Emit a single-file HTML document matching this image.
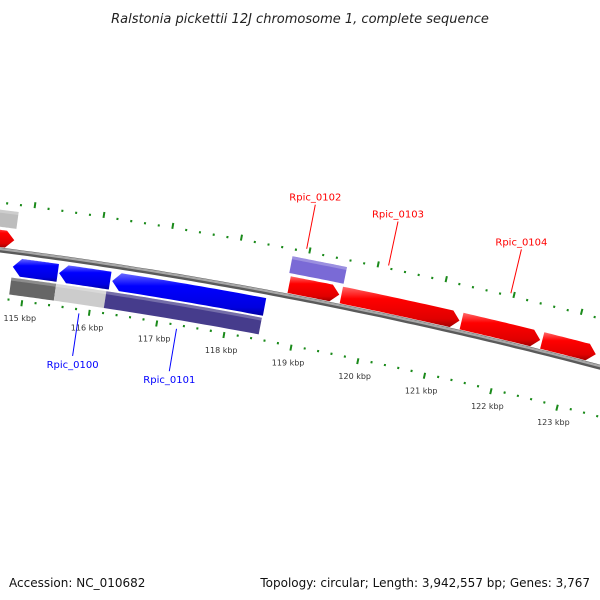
<!DOCTYPE html>
<html><head><meta charset="utf-8">
<style>
html,body{margin:0;padding:0;background:#fff;}
svg{display:block;font-family:"DejaVu Sans","Liberation Sans",sans-serif;}
</style></head>
<body>
<svg id="map" width="600" height="600" viewBox="0 0 600 600" xmlns="http://www.w3.org/2000/svg">
<defs>
<linearGradient id="gRed" x1="0" y1="0" x2="0" y2="1"><stop offset="0" stop-color="#ff6a6a"/><stop offset="0.3" stop-color="#ff0000"/><stop offset="0.8" stop-color="#e00000"/><stop offset="1" stop-color="#a00000"/></linearGradient>
<linearGradient id="gBlue" x1="0" y1="0" x2="0" y2="1"><stop offset="0" stop-color="#6a6aff"/><stop offset="0.3" stop-color="#0000ff"/><stop offset="0.8" stop-color="#0000e0"/><stop offset="1" stop-color="#0000a0"/></linearGradient>
<linearGradient id="gBack" x1="0" y1="0" x2="0" y2="1"><stop offset="0" stop-color="#bbbbbb"/><stop offset="0.5" stop-color="#888888"/><stop offset="1" stop-color="#555555"/></linearGradient>
</defs>
<text x="300" y="23" text-anchor="middle" font-size="13" font-style="italic" fill="#222">Ralstonia pickettii 12J chromosome 1, complete sequence</text>
<g id="ticks"></g>
<g id="feats"></g>
<g id="labels"></g>
<text x="9" y="587" font-size="12" fill="#111">Accession: NC_010682</text>
<text x="590" y="587" font-size="12" text-anchor="end" fill="#111">Topology: circular; Length: 3,942,557 bp; Genes: 3,767</text>
</svg>
<script>
// data
const featStart = [114.20, 114.20, 114.80, 115.48, 116.26, 114.80, 115.46, 116.20, 118.80, 119.57, 121.35, 122.55, 118.77];
const featEnd   = [114.77, 114.78, 115.46, 116.23, 118.51, 115.46, 116.20, 118.50, 119.54, 121.32, 122.52, 123.35, 119.57];
const featRow   = [1, 2, -1, -1, -1, -2, -2, -2, 1, 1, 1, 1, 2];
const featColor = ['red','#bdbdbd','blue','blue','blue','#666666','#cccccc','#463c8c','red','red','red','red','#7a6ad6'];
const featName  = ['gene-a','cog-a','gene-rpic-0099','gene-rpic-0100','gene-rpic-0101','cog-0099','cog-0100','cog-0101','gene-rpic-0102','gene-rpic-0103','gene-rpic-0104','gene-rpic-0105','cog-0102'];
const tickLabelsK = [115,116,117,118,119,120,121,122,123];
const labelNames = ['Rpic_0100','Rpic_0101','Rpic_0102','Rpic_0103','Rpic_0104'];
const labelPos   = [115.85, 117.3, 118.95, 120.15, 121.95];
const labelRow   = [-2, -2, 2, 1, 1];

const NS='http://www.w3.org/2000/svg';
const CX=-606, CY=4946, R0=4735;
function phi(k){return 0.1344+0.01456*(k-115);}
function pt(k,r){const a=phi(k);return [CX+r*Math.sin(a), CY-r*Math.cos(a)];}
function mk(tag,attrs){const e=document.createElementNS(NS,tag);for(const a in attrs)e.setAttribute(a,attrs[a]);return e;}
const ticks=document.getElementById('ticks'), feats=document.getElementById('feats'), labels=document.getElementById('labels');

// backbone
(function(){
  let d='';for(let k=113.5;k<=125;k+=0.1){const p=pt(k,R0);d+=(d?'L':'M')+p[0].toFixed(1)+' '+p[1].toFixed(1);}
  const b=mk('path',{d:d,stroke:'#5a5a5a',"stroke-width":5,fill:'none'});
  
  
  feats.appendChild(b);
  const h=mk('path',{d:d,stroke:'#a8a8a8',"stroke-width":2.2,fill:'none',transform:'translate(0,-1)'});
  
  
  feats.appendChild(h);
})();

// ticks
[[4781,1],[4688,-1]].forEach(function(row){
  const r=row[0], dir=row[1];
  for(let i=0;i<=55;i++){
    const k=114.0+i*0.2;
    const major=Math.abs(k-Math.round(k))<1e-6;
    const len=major?6:2.2;
    const p1=pt(k,r), p2=pt(k,r+dir*len);
    const l=mk('line',{x1:p1[0].toFixed(1),y1:p1[1].toFixed(1),x2:p2[0].toFixed(1),y2:p2[1].toFixed(1),stroke:'#1a8a1a',"stroke-width":major?2:2});
    
    
    ticks.appendChild(l);
  }
});
tickLabelsK.forEach(function(k){
  const p=pt(k,4670);
  const t=mk('text',{x:p[0].toFixed(1),y:(p[1]+3).toFixed(1),"font-size":8,"text-anchor":"middle",fill:'#333'});
  t.textContent=k+' kbp';
  
  
  ticks.appendChild(t);
});

// features
const rowR={1:[4738,4755],2:[4758,4775],'-1':[4711,4729],'-2':[4692,4709]};
featStart.forEach(function(s,i){
  const e=featEnd[i], row=featRow[i], rr=rowR[row];
  const isGene=(featColor[i]==='red'||featColor[i]==='blue');
  const fwd=row>0;
  const ah=isGene?0.12:0;
  const pts=[];
  const steps=20;
  const a0=fwd?s:s+ah, a1=fwd?e-ah:e;
  for(let j=0;j<=steps;j++){pts.push(pt(a0+(a1-a0)*j/steps,rr[1]));}
  if(isGene&&fwd){pts.push(pt(e,(rr[0]+rr[1])/2));}
  for(let j=steps;j>=0;j--){pts.push(pt(a0+(a1-a0)*j/steps,rr[0]));}
  if(isGene&&!fwd){pts.push(pt(s,(rr[0]+rr[1])/2));}
  const fill=featColor[i]==='red'?'url(#gRed)':featColor[i]==='blue'?'url(#gBlue)':featColor[i];
  const p=mk('polygon',{points:pts.map(q=>q[0].toFixed(1)+','+q[1].toFixed(1)).join(' '),fill:fill});
  
  
  feats.appendChild(p);
  if(!isGene){
    const hp=[];for(let j=0;j<=steps;j++){hp.push(pt(s+(e-s)*j/steps,rr[1]-1.5));}
    const pl=mk('polyline',{points:hp.map(q=>q[0].toFixed(1)+','+q[1].toFixed(1)).join(' '),stroke:'#ffffff',"stroke-opacity":0.25,"stroke-width":3,fill:'none'});
    
    
    feats.appendChild(pl);
  }
});

// labels
labelNames.forEach(function(n,i){
  const k=labelPos[i], out=labelRow[i]>0;
  const rStart=out?4785:4683, rEnd=out?4830:4640;
  const p1=pt(k,rStart), p2=pt(k,rEnd);
  const col=out?'#ff0000':'#0000ff';
  const l=mk('line',{x1:p1[0].toFixed(1),y1:p1[1].toFixed(1),x2:p2[0].toFixed(1),y2:p2[1].toFixed(1),stroke:col,"stroke-width":1});
  
  
  labels.appendChild(l);
  const t=mk('text',{x:p2[0].toFixed(1),y:(out?p2[1]-4:p2[1]+12).toFixed(1),"font-size":10,"text-anchor":"middle",fill:col});
  t.textContent=n;
  
  
  labels.appendChild(t);
});
</script>
</body></html>
